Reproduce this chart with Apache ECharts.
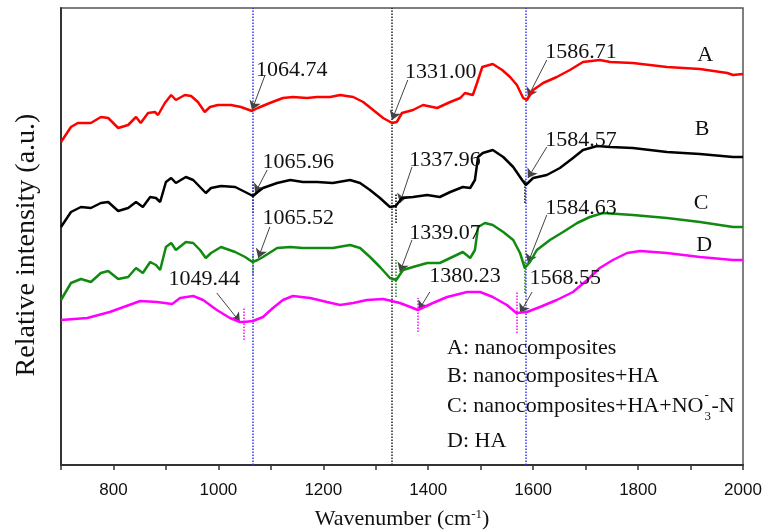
<!DOCTYPE html>
<html>
<head>
<meta charset="utf-8">
<title>FTIR spectra</title>
<script src="https://cdn.jsdelivr.net/npm/echarts@6/dist/echarts.min.js"></script>
<style>
  html, body { margin: 0; padding: 0; background: #fff; }
  #main { width: 776px; height: 530px; }
</style>
</head>
<body>
<div id="main"></div>
<script>
// spectra (wavenumber, relative intensity a.u.)
var waveA = [700,719,732,757,776,790,809,828,843,852,866,879,885,898,910,919,936,948,961,974,984,999,1024,1043,1064,1075,1098,1123,1142,1169,1188,1213,1232,1257,1276,1295,1314,1331,1340,1350,1371,1390,1417,1442,1461,1470,1485,1493,1503,1523,1541,1556,1569,1581,1588,1600,1619,1645,1670,1695,1727,1747,1790,1855,1918,1970,1981,2000];
var intA  = [323,338,342,342,348,347,337,340,348,342,352,353,350,362,370,365,370,369,363,353,358,360,360,358,354,357,362,367,368,367,368,368,370,368,363,355,347,342,343,352,355,360,357,363,367,372,370,382,398,401,395,388,380,367,365,375,382,388,395,403,405,403,402,398,396,392,390,391];

var waveB = [700,719,738,757,776,790,809,828,843,856,870,881,889,900,910,919,938,952,965,976,986,1005,1032,1051,1066,1075,1085,1112,1137,1161,1188,1218,1251,1270,1289,1308,1327,1338,1350,1371,1398,1422,1442,1466,1480,1489,1495,1504,1523,1543,1562,1579,1586,1600,1626,1651,1676,1695,1722,1747,1790,1855,1918,1981,2000];
var intB  = [238,253,258,257,262,263,254,257,263,258,268,267,263,283,287,282,288,285,278,272,277,279,278,273,269,273,277,282,285,283,283,282,285,282,275,267,258,259,267,268,270,268,273,278,277,285,308,312,315,308,298,285,280,287,290,297,307,315,319,318,317,313,311,308,308];

var waveC = [700,719,738,757,776,790,809,828,843,856,870,881,889,900,910,919,938,952,965,976,986,1005,1032,1051,1065,1075,1085,1112,1137,1161,1188,1218,1251,1270,1289,1308,1327,1339,1352,1371,1398,1422,1442,1466,1480,1489,1495,1508,1523,1543,1562,1575,1584,1594,1607,1632,1657,1684,1708,1733,1790,1855,1918,1981,2000];
var intC  = [165,182,186,183,192,194,186,188,197,192,203,200,195,218,222,215,223,222,215,207,212,218,213,208,203,205,208,217,218,217,217,217,220,217,208,198,187,185,195,198,202,202,207,213,207,215,238,242,240,233,225,212,197,203,215,225,233,242,248,252,250,247,243,238,238];

var waveD = [700,750,793,851,883,912,927,952,971,997,1022,1041,1049,1066,1085,1104,1123,1142,1175,1207,1232,1257,1283,1314,1346,1371,1380,1409,1436,1474,1499,1523,1550,1568,1588,1613,1645,1676,1703,1727,1752,1779,1804,1855,1918,1981,2000];
var intD  = [145,147,153,164,163,161,167,169,165,155,147,143,143,144,148,157,165,169,167,163,160,162,165,166,162,157,155,162,168,173,173,168,160,152,153,158,165,173,185,197,205,212,214,212,208,205,205];

var curveNames  = ['A', 'B', 'C', 'D'];
var curveColors = ['#ff0000', '#000000', '#108a10', '#ff00ff'];
var curveNameAt = [[1928, 410], [1922, 336], [1920, 262], [1926, 220]];

// full height guide lines
var guideWave  = [1064.74, 1331.00, 1586.71];
var guideColor = ['#3535ff', '#222222', '#3535ff'];

// peak annotations
var peakText = ['1064.74','1331.00','1586.71','1065.96','1337.96','1584.57','1065.52','1339.07','1584.63','1049.44','1380.23','1568.55'];
var peakTextAt = [[1140,395],[1424,393],[1691,413],[1152,303],[1432,305],[1691,325],[1152,247],[1432,232],[1691,257],[973,186],[1470,189],[1661,187]];
var arrowFrom = [[1089,390],[1361,385],[1626,405],[1093,295],[1369,298],[1626,318],[1098,238],[1369,225],[1626,250],[997,172],[1403,173],[1598,173]];
var arrowTo   = [[1064,355],[1331,345],[1590,368],[1070,272],[1346,262],[1590,287],[1076,207],[1346,193],[1590,202],[1041,143],[1382,155],[1575,152]];

// short dotted ticks under the minima [wave, from, to]
var ticksB = [[1066,252,285],[1338,242,272],[1584,262,285]];
var ticksC = [[1065,190,210],[1339,168,205],[1584,172,205]];
var ticksD = [[1049,125,158],[1380,133,167],[1568,132,173]];

var legendLines = ['A: nanocomposites', 'B: nanocomposites+HA', 'C: nanocomposites+HA+NO', 'D: HA'];
var yTitle = 'Relative intensity (a.u.)';

var serif = '"Liberation Serif", "Times New Roman", serif';
var sans = '"Liberation Sans", Arial, sans-serif';

function zip(xs, ys) {
    var out = [];
    for (var i = 0; i < xs.length; i++) out.push([xs[i], ys[i]]);
    return out;
}

function tickLines(list) {
    return list.map(function (t) {
        return [{ coord: [t[0], t[1]] }, { coord: [t[0], t[2]] }];
    });
}

var waves = [waveA, waveB, waveC, waveD];
var ints = [intA, intB, intC, intD];
var tickSets = [[], ticksB, ticksC, ticksD];

var series = [];
for (var k = 0; k < 4; k++) {
    series.push({
        name: curveNames[k],
        type: 'line',
        data: zip(waves[k], ints[k]),
        showSymbol: false,
        z: 5,
        lineStyle: { color: curveColors[k], width: 2.5 },
        markLine: {
            silent: true,
            symbol: ['none', 'none'],
            label: { show: false },
            lineStyle: { color: curveColors[k], type: 'dotted', width: 1.5 },
            data: tickLines(tickSets[k])
        }
    });
}

// arrows from the labels to the minima
var arrows = [];
for (var a = 0; a < arrowFrom.length; a++) {
    arrows.push([
        { coord: arrowFrom[a], symbol: 'none' },
        { coord: arrowTo[a], symbol: 'arrow', symbolSize: 9 }
    ]);
}

// guide lines + arrows live on an empty helper series
series.push({
    type: 'line',
    data: [],
    z: 2,
    markLine: {
        silent: true,
        symbol: ['none', 'none'],
        label: { show: false },
        data: guideWave.map(function (w, i) {
            return { xAxis: w, lineStyle: { color: guideColor[i], type: 'dotted', width: 1.5 } };
        })
    }
});
series.push({
    type: 'line',
    data: [],
    z: 6,
    markLine: {
        silent: true,
        label: { show: false },
        lineStyle: { color: '#444', type: 'solid', width: 1 },
        data: arrows
    }
});

var myChart = echarts.init(document.getElementById('main'));
var option = {
    animation: false,
    backgroundColor: '#fff',
    grid: {
        left: 61, right: 33, top: 8, bottom: 65,
        outerBoundsMode: 'none',
        containLabel: false,
        show: true, borderColor: '#555', borderWidth: 1.5
    },
    xAxis: {
        type: 'value',
        min: 700, max: 2000, interval: 100,
        name: 'Wavenumber (cm{sup|-1})',
        nameLocation: 'middle',
        nameGap: 43,
        nameTextStyle: {
            fontFamily: serif, fontSize: 22, color: '#111',
            rich: { sup: { fontFamily: serif, fontSize: 13, color: '#111', verticalAlign: 'top' } }
        },
        splitLine: { show: false },
        axisLine: { lineStyle: { color: '#333', width: 2 } },
        axisTick: { show: true, length: 5, lineStyle: { color: '#333', width: 1.5 } },
        axisLabel: {
            fontFamily: sans, fontSize: 17, color: '#111', margin: 17,
            showMinLabel: true, showMaxLabel: true,
            formatter: function (v) { return v % 200 === 0 ? String(v) : ''; }
        }
    },
    yAxis: {
        type: 'value',
        min: 0, max: 457,
        splitLine: { show: false },
        axisLine: { show: true, lineStyle: { color: '#333', width: 2 } },
        axisTick: { show: false },
        axisLabel: { show: false }
    },
    series: series
};
myChart.setOption(option);

// text: peak values and curve letters placed through the chart's own scales
var texts = [];
function addText(str, at) {
    var p = myChart.convertToPixel({ gridIndex: 0 }, at);
    texts.push({
        type: 'text', x: p[0], y: p[1], z: 10,
        style: { text: str, font: '22px ' + serif, fill: '#111', align: 'center', verticalAlign: 'middle' }
    });
}
for (var i = 0; i < peakText.length; i++) addText(peakText[i], peakTextAt[i]);
for (var j = 0; j < curveNames.length; j++) addText(curveNames[j], curveNameAt[j]);

// legend block, with NO3- sub/superscripts after the C line
var ctx = document.createElement('canvas').getContext('2d');
ctx.font = '22px ' + serif;
var cWidth = ctx.measureText(legendLines[2]).width;
var legX = 447;
var legY = [348, 376, 406, 441];
legendLines.forEach(function (t, i) {
    texts.push({
        type: 'text', x: legX, y: legY[i], z: 10,
        style: { text: t, font: '22px ' + serif, fill: '#111', verticalAlign: 'middle' }
    });
});
texts.push({ type: 'text', x: legX + cWidth + 1, y: legY[2] - 10, z: 10,
    style: { text: '-', font: '13px ' + serif, fill: '#111', verticalAlign: 'middle' } });
texts.push({ type: 'text', x: legX + cWidth + 1, y: legY[2] + 11, z: 10,
    style: { text: '3', font: '13px ' + serif, fill: '#111', verticalAlign: 'middle' } });
texts.push({ type: 'text', x: legX + cWidth + 8, y: legY[2], z: 10,
    style: { text: '-N', font: '22px ' + serif, fill: '#111', verticalAlign: 'middle' } });
// y axis title
texts.push({ type: 'text', x: 27, y: 245, rotation: Math.PI / 2, z: 10,
    style: { text: yTitle, font: '28px ' + serif, fill: '#111', align: 'center', verticalAlign: 'middle' } });

myChart.setOption({ graphic: texts });
</script>
</body>
</html>
